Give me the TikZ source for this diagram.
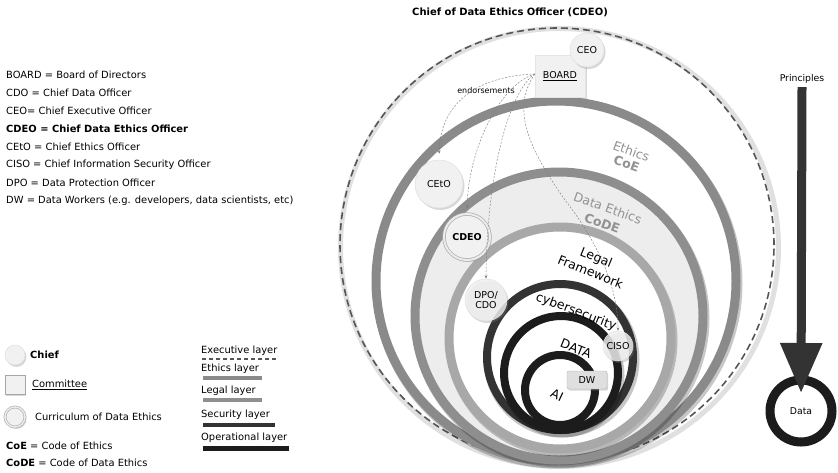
\documentclass[tikz,border=0pt]{standalone}
\usepackage{fontspec}
\setmainfont{DejaVu Sans}
\usetikzlibrary{arrows.meta,shadows}
\definecolor{ethicsgray}{HTML}{8A8A8A}
\definecolor{codegray}{HTML}{8E8E8E}
\definecolor{legalgray}{HTML}{A8A8A8}
\definecolor{secgray}{HTML}{333333}
\definecolor{opgray}{HTML}{1C1C1C}
\definecolor{codefill}{HTML}{EDEDED}
\definecolor{labelgray}{HTML}{929292}
\definecolor{nodefill}{HTML}{F1F1F1}
\definecolor{dashgray}{HTML}{555555}
\newcommand\fsz[2]{\fontsize{#1}{#2}\selectfont}
\begin{document}
\begin{tikzpicture}[x=1pt,y=-1pt,
  lgd/.style={font=\fsz{9.9}{12}, inner sep=0pt, anchor=west},
  officer/.style={circle, fill=nodefill, draw=gray!25, line width=.5pt, inner sep=0pt, font=\fsz{9.5}{11}, align=center,
    drop shadow={shadow xshift=1.5pt, shadow yshift=-2pt, opacity=.3}},
  ringlabel/.style={font=\fsz{12.5}{14}, inner sep=0pt, align=center},
  ringshadow/.style={line width=6pt, black, opacity=.22},
  endorse/.style={dash pattern=on 2pt off 1.5pt, gray, line width=.45pt, -{Stealth[length=3.5pt,width=2.8pt]}},
  layerbar/.style={line width=4.5pt},
]
\useasboundingbox (0,0) rectangle (838,472);
\fill[white] (0,0) rectangle (838,472);

% ---------- title
\node[font=\fsz{10}{12}\bfseries] (title) at (510,12) {Chief of Data Ethics Officer (CDEO)};

% ---------- outer dashed circle (executive layer)
\draw[line width=5pt, black, opacity=.12] (559.5,247.5) circle[radius=219pt];
\draw[line width=1.6pt, dashgray, dash pattern=on 7pt off 4pt] (557,245) circle[radius=217pt];

% ---------- Ethics ring
\draw[ringshadow] (557.5,283.5) circle[radius=182pt];
\draw[line width=9pt, ethicsgray] (556,281) circle[radius=180pt];

% ---------- Data Ethics ring
\fill[codefill] (559,316) circle[radius=144pt];
\draw[ringshadow] (560.5,318.5) circle[radius=146pt];
\draw[line width=9pt, codegray] (559,316) circle[radius=144pt];

% ---------- Legal ring
\fill[white] (560,338) circle[radius=111pt];
\draw[ringshadow] (561.5,340.5) circle[radius=113pt];
\draw[line width=9pt, legalgray] (560,338) circle[radius=111pt];

% ---------- security / operational rings
\draw[ringshadow] (561.5,359.5) circle[radius=75pt];
\draw[line width=8pt, secgray] (560,357) circle[radius=73pt];
\draw[ringshadow] (562.5,375.5) circle[radius=59pt];
\draw[line width=8pt, opgray] (561,373) circle[radius=57pt];
\draw[line width=8pt, opgray] (560,390) circle[radius=35pt];

% ---------- ring labels
\node[ringlabel, rotate=-20, font=\fsz{12.5}{13.5}, text=labelgray] (ethics) at (629,157.5) {Ethics\\\textbf{CoE}};
\node[ringlabel, rotate=-20, font=\fsz{12.5}{16}, text=labelgray] (dethics) at (605,215.5) {Data Ethics\\\textbf{CoDE}};
\node[ringlabel, rotate=-22, font=\fsz{12.5}{15.5}] (legal) at (593.5,264.5) {Legal\\Framework};
\node[ringlabel, rotate=-21] (cyber) at (576,312) {cybersecurity};
\node[ringlabel, rotate=-22] (datalbl) at (576,348.5) {DATA};
\node[ringlabel, rotate=-25] (ailbl) at (557,395) {AI};

% ---------- officers and committee
\node[draw=gray!20, fill=nodefill, minimum width=50pt, minimum height=42pt, inner sep=0pt, font=\fsz{9.5}{11},
      drop shadow={shadow xshift=1.5pt, shadow yshift=-2pt, opacity=.3}] (board) at (560,76) {\underline{BOARD}};
\node[officer, minimum size=34pt] (ceo) at (587,50) {CEO};
\node[officer, minimum size=48pt] (ceto) at (439,184) {CEtO};
\node[officer, minimum size=46pt, draw=gray!65, double=gray!15, double distance=2pt, line width=.7pt,
      font=\fsz{9.5}{11}\bfseries] (cdeo) at (467,237) {CDEO};
\node[officer, minimum size=42pt, fill opacity=.8, text opacity=1] (dpo) at (486,300) {DPO/\\[-1pt]CDO};
\node[officer, minimum size=30pt, fill opacity=.8, text opacity=1] (ciso) at (618,346) {CISO};
\node[draw=gray!60, fill=gray!25, rounded corners=2pt, minimum width=40pt, minimum height=18pt, inner sep=0pt,
      font=\fsz{9.5}{11}, drop shadow={shadow xshift=1.2pt, shadow yshift=-1.5pt, opacity=.3}] (dw) at (587,380) {DW};

% ---------- endorsements
\node[font=\fsz{8}{9}, inner sep=0pt] (endlbl) at (486,91) {endorsements};
\draw[endorse, shorten >=6pt] ([yshift=2pt]board.west) .. controls (475,76) and (440,105) .. (ceto.north);
\draw[endorse, shorten >=5pt] ([yshift=2pt]board.west) .. controls (500,84) and (468,150) .. (cdeo.north);
\draw[endorse] ([yshift=2pt]board.west) .. controls (510,90) and (487,170) .. (dpo.north);
\draw[endorse] ([yshift=2pt]board.west) .. controls (510,110) and (530,150) .. (565,200)
      .. controls (600,245) and (618,290) .. (ciso.north);

% ---------- Principles -> Data
\node[font=\fsz{9.3}{11}] (principles) at (802,79) {Principles};
\node[circle, draw=opgray, line width=9pt, minimum size=62pt, inner sep=0pt, font=\fsz{9.3}{11}] (data) at (801,411) {Data};
\draw[line width=9pt, secgray, shorten >=18pt, -{Triangle[length=50pt,width=40pt]}] (principles.south) -- (data.center);

% ---------- abbreviations legend
\node[lgd] (l1) at (6,75) {BOARD = Board of Directors};
\node[lgd] (l2) at (6,93) {CDO = Chief Data Officer};
\node[lgd] (l3) at (6,111) {CEO= Chief Executive Officer};
\node[lgd, font=\fsz{9.9}{12}\bfseries] (l4) at (6,129) {CDEO = Chief Data Ethics Officer};
\node[lgd] (l5) at (6,147) {CEtO = Chief Ethics Officer};
\node[lgd] (l6) at (6,165) {CISO = Chief Information Security Officer};
\node[lgd] (l7) at (6,183) {DPO = Data Protection Officer};
\node[lgd] (l8) at (6,201) {DW = Data Workers (e.g. developers, data scientists, etc)};

% ---------- symbol legend
\node[officer, minimum size=20pt] (kchief) at (15,355) {};
\node[lgd, font=\fsz{9.9}{12}\bfseries] (tchief) at (30,355) {Chief};
\node[draw=gray!70, fill=nodefill, minimum width=20pt, minimum height=19pt, inner sep=0pt,
      drop shadow={shadow xshift=1.2pt, shadow yshift=-1.5pt, opacity=.3}] (kcomm) at (15,385) {};
\node[lgd] (tcomm) at (32,385) {\underline{Committee}};
\node[officer, minimum size=20pt, draw=gray!65, double=gray!15, double distance=1.5pt, line width=.6pt] (kcurr) at (15,417) {};
\node[lgd] (tcurr) at (35,417) {Curriculum of Data Ethics};
\node[lgd] (tcoe) at (6,446) {\textbf{CoE} = Code of Ethics};
\node[lgd] (tcode) at (6,463) {\textbf{CoDE} = Code of Data Ethics};

% ---------- layer legend
\node[lgd] (lexec) at (201,351) {Executive layer};
\draw[dashgray, line width=1.2pt, dash pattern=on 4pt off 3pt] (202,359) -- (276,359);
\node[lgd] (leth) at (201,369) {Ethics layer};
\draw[layerbar, ethicsgray] (203,378) -- (262,378);
\node[lgd] (lleg) at (201,391) {Legal layer};
\draw[layerbar, legalgray!85!black] (203,400) -- (262,400);
\node[lgd] (lsec) at (201,415) {Security layer};
\draw[layerbar, secgray] (203,425) -- (275,425);
\node[lgd] (lop) at (201,438) {Operational layer};
\draw[layerbar, line width=5pt, opgray] (203,448) -- (289,448);
\end{tikzpicture}
\end{document}
